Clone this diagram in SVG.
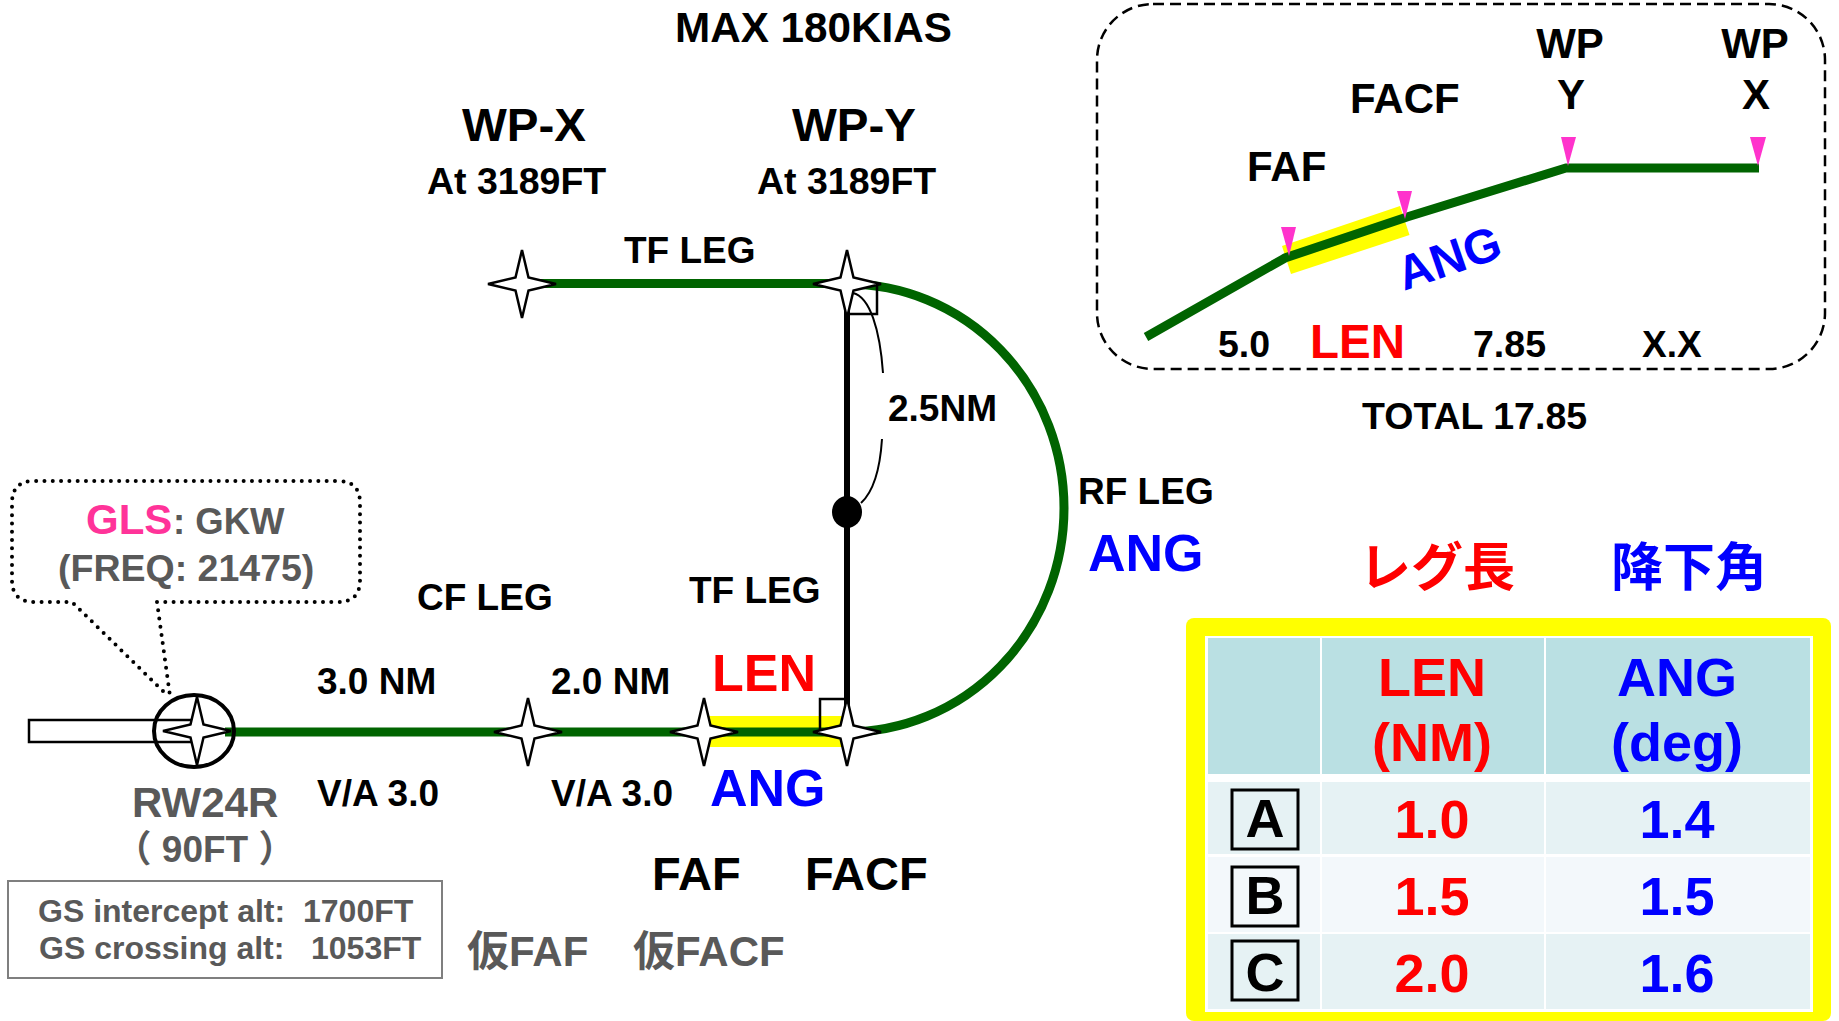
<svg xmlns="http://www.w3.org/2000/svg" xmlns:xlink="http://www.w3.org/1999/xlink" width="1839" height="1021" viewBox="0 0 1839 1021">
<defs>
<path id="star" d="M0-34L6.5-6.5L34 0L6.5 6.5L0 34L-6.5 6.5L-34 0L-6.500-6.500Z" fill="#fff" stroke="#000" stroke-width="2.500"/>
</defs>
<style>
text{font-family:"Liberation Sans","Noto Sans CJK JP",sans-serif;font-weight:700;fill:#000}
.c{text-anchor:middle}
.g{fill:#595959}
.r{fill:#f00}
.b{fill:#00f}
.s37{font-size:37px}
.s375{font-size:37.500px}
.s47{font-size:47px}
.s42{font-size:42px}
.s52{font-size:52px}
.s54{font-size:54px}
.grn{fill:none;stroke:#006400;stroke-width:9}
.blk{fill:none;stroke:#000}
.mag{fill:#f3c}
.yel{fill:#ff0}
.box{fill:none;stroke:#000;stroke-width:3}
</style>
<rect width="1839" height="1021" fill="#fff"/>
<g id="highlights">
<rect class="yel" x="708" y="716" width="139" height="31"/>
</g>
<g id="connectors">
<path class="blk" stroke-width="6" d="M847 284V732"/>
<path class="grn" d="M225 732H847"/>
<path class="grn" d="M525 283.500H847"/>
<path class="grn" d="M847 284A217 224 0 0 1 847 732"/>
<rect class="blk" stroke-width="2.500" x="847" y="284" width="30" height="30"/>
<rect class="blk" stroke-width="2.500" x="820" y="699" width="27" height="33"/>
<path class="blk" stroke-width="2" d="M853 293C870 297 880 330 883 373"/>
<path class="blk" stroke-width="2" d="M882 439C880 470 873 492 861 503"/>
</g>
<g id="node-wp-x"><use xlink:href="#star" x="522" y="284"/>
<text x="462" y="141" style="font-size:47px" textLength="124" lengthAdjust="spacingAndGlyphs">WP-X</text>
<text class="s375" x="427" y="194">At 3189FT</text></g>
<g id="node-wp-y"><use xlink:href="#star" x="847" y="284"/>
<text x="792" y="141" style="font-size:47px" textLength="124" lengthAdjust="spacingAndGlyphs">WP-Y</text>
<text class="s375" x="757" y="194">At 3189FT</text></g>
<g id="node-midpoint"><ellipse cx="847" cy="512" rx="15" ry="16"/></g>
<g id="node-temp-faf"><use xlink:href="#star" x="528" y="732"/>
<text class="g s42" x="467" y="966">仮FAF</text></g>
<g id="node-faf"><use xlink:href="#star" x="704" y="732"/>
<text class="s47" x="652" y="890">FAF</text></g>
<g id="node-facf"><use xlink:href="#star" x="847" y="732"/>
<text class="s47" x="805" y="890">FACF</text>
<text class="g s42" x="633" y="966">仮FACF</text></g>
<g id="node-runway">
<rect x="29" y="720" width="165" height="22" fill="#fff" stroke="#000" stroke-width="2.500"/>
<ellipse cx="194" cy="731" rx="40" ry="36" fill="none" stroke="#000" stroke-width="4"/>
<use xlink:href="#star" x="197" y="731"/>
<text class="g" x="132" y="817" style="font-size:42px">RW24R</text>
<text class="g" x="205" y="862" text-anchor="middle" style="font-size:37px">（ 90FT ）</text>
</g>
<g id="node-callout">
<path d="M157 602H338Q360 602 360 580V503Q360 481 338 481H34Q12 481 12 503V580Q12 602 34 602H72L168 696M157 602L170 696" fill="none" stroke="#000" stroke-width="4" stroke-linecap="round" stroke-dasharray="0 8.300"/>
<text x="86" y="534" style="font-size:42px;fill:#f39">GLS</text>
<text class="g" x="173" y="534" style="font-size:36.500px">: GKW</text>
<text class="g s375" x="58" y="581">(FREQ: 21475)</text>
</g>
<g id="node-gs-box">
<rect x="8" y="881" width="434" height="97" fill="none" stroke="#7f7f7f" stroke-width="2"/>
<text class="g" x="38" y="922" style="font-size:32px">GS intercept alt:<tspan x="303">1700FT</tspan></text>
<text class="g" x="39" y="959" style="font-size:32px">GS crossing alt:<tspan x="311">1053FT</tspan></text>
</g>
<g id="labels">
<text class="s42" x="675" y="42" textLength="277" lengthAdjust="spacingAndGlyphs">MAX 180KIAS</text>
<text class="s37" x="624" y="263">TF LEG</text>
<text class="s37" x="689" y="603">TF LEG</text>
<text class="s37" x="417" y="610">CF LEG</text>
<text class="s37" x="888" y="421">2.5NM</text>
<text class="s37" x="1078" y="504">RF LEG</text>
<text class="b s52" x="1088" y="571">ANG</text>
<text class="r s52" x="712" y="691">LEN</text>
<text class="b s52" x="710" y="806">ANG</text>
<text class="s37" x="317" y="694">3.0 NM</text>
<text class="s37" x="551" y="694">2.0 NM</text>
<text class="s37" x="317" y="806">V/A 3.0</text>
<text class="s37" x="551" y="806">V/A 3.0</text>
</g>
<g id="profile-inset">
<rect x="1097" y="4" width="728" height="365" rx="56" ry="56" fill="none" stroke="#000" stroke-width="2.500" stroke-dasharray="11 6"/>
<polygon class="yel" points="1282,246 1400,206 1409.500,235 1291,274"/>
<path class="grn" d="M1146 337L1285 258L1407 217L1566 168H1759"/>
<path class="mag" d="M1281 227H1296L1289 256Z"/>
<path class="mag" d="M1397 191H1412L1405 219Z"/>
<path class="mag" d="M1561 137H1576L1568 166Z"/>
<path class="mag" d="M1750 137H1766L1758 166Z"/>
<text class="s42 c" x="1570" y="58">WP</text>
<text class="s42 c" x="1571" y="109">Y</text>
<text class="s42 c" x="1755" y="58">WP</text>
<text class="s42 c" x="1756" y="109">X</text>
<text class="s42" x="1350" y="113">FACF</text>
<text class="s42" x="1247" y="181">FAF</text>
<text class="b" style="font-size:48px" transform="translate(1404 291) rotate(-19)" x="0" y="0">ANG</text>
<text class="s375" x="1218" y="357">5.0</text>
<text class="r" x="1310" y="358" style="font-size:47.500px">LEN</text>
<text class="s375" x="1473" y="357">7.85</text>
<text class="s37" x="1642" y="357">X.X</text>
<text class="s375" x="1362" y="429">TOTAL 17.85</text>
</g>
<g id="headers">
<text class="r" x="1437" y="586" text-anchor="middle" style="font-size:52px">レグ長</text>
<text class="b" x="1689" y="586" text-anchor="middle" style="font-size:52px">降下角</text>
</g>
<g id="table">
<rect class="yel" x="1186" y="618" width="645" height="403" rx="8"/>
<rect x="1205" y="636" width="608" height="376" fill="#fff"/>
<g fill="#bae0e3"><rect x="1208" y="638" width="112" height="136"/><rect x="1322" y="638" width="222" height="136"/><rect x="1546" y="638" width="264" height="136"/></g>
<g fill="#e6f2f4"><rect x="1208" y="782" width="112" height="72"/><rect x="1322" y="782" width="222" height="72"/><rect x="1546" y="782" width="264" height="72"/>
<rect x="1208" y="934" width="112" height="75"/><rect x="1322" y="934" width="222" height="75"/><rect x="1546" y="934" width="264" height="75"/></g>
<g fill="#f3f8fb"><rect x="1208" y="857" width="112" height="75"/><rect x="1322" y="857" width="222" height="75"/><rect x="1546" y="857" width="264" height="75"/></g>
<rect class="box" x="1232" y="790" width="66" height="59"/>
<rect class="box" x="1232" y="867" width="66" height="59"/>
<rect class="box" x="1232" y="941" width="66" height="59"/>
<text class="s54 c" x="1265" y="837">A</text>
<text class="s54 c" x="1265" y="914">B</text>
<text class="s54 c" x="1265" y="991">C</text>
<text class="s54 c r" x="1432" y="696">LEN</text>
<text class="s54 c r" x="1432" y="761">(NM)</text>
<text class="s54 c b" x="1677" y="696">ANG</text>
<text class="s54 c b" x="1677" y="761">(deg)</text>
<text class="s54 c r" x="1432" y="838">1.0</text>
<text class="s54 c r" x="1432" y="915">1.5</text>
<text class="s54 c r" x="1432" y="992">2.0</text>
<text class="s54 c b" x="1677" y="838">1.4</text>
<text class="s54 c b" x="1677" y="915">1.5</text>
<text class="s54 c b" x="1677" y="992">1.6</text>
</g>
</svg>
